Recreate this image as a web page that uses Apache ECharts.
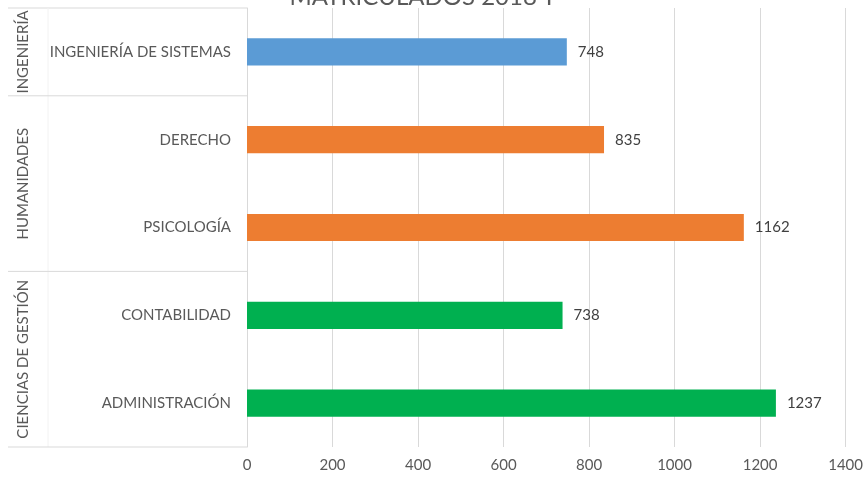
<!DOCTYPE html>
<html>
<head>
<meta charset="utf-8">
<script src="https://cdn.jsdelivr.net/npm/echarts@6/dist/echarts.min.js"></script>
<style>
html,body{margin:0;padding:0;background:#fff;}
#c{width:866px;height:478px;}
</style>
</head>
<body>
<div id="c"></div>
<script>
var titleText = 'MATRICULADOS 2018-I';
var categories = ['INGENIERÍA DE SISTEMAS', 'DERECHO', 'PSICOLOGÍA', 'CONTABILIDAD', 'ADMINISTRACIÓN'];
var values = [748, 835, 1162, 738, 1237];
var groupNames = ['INGENIERÍA', 'HUMANIDADES', 'CIENCIAS DE GESTIÓN'];
var groupSizes = [1, 2, 2];
var groupColors = ['#5B9BD5', '#ED7D31', '#00B050'];
var xTicks = [0, 200, 400, 600, 800, 1000, 1200, 1400];

var FONT = 'Lato';
var chart = echarts.init(document.getElementById('c'), null, {renderer: 'canvas'});

var colorOf = [];
groupSizes.forEach(function (n, g) { for (var i = 0; i < n; i++) colorOf.push(groupColors[g]); });

chart.setOption({
  animation: false,
  backgroundColor: '#fff',
  textStyle: {fontFamily: FONT},
  title: {
    text: titleText, left: 416, textAlign: 'center', top: -20,
    textStyle: {fontFamily: FONT, fontSize: 24, fontWeight: 'normal', color: '#595959'}
  },
  grid: {left: 247, right: 19, top: 8, bottom: 31, containLabel: false},
  xAxis: {
    type: 'value', min: xTicks[0], max: xTicks[xTicks.length - 1], interval: xTicks[1] - xTicks[0],
    axisLine: {show: false}, axisTick: {show: false},
    splitLine: {lineStyle: {color: '#D9D9D9', width: 1}},
    axisLabel: {color: '#595959', fontSize: 15, fontFamily: FONT, margin: 11,
      formatter: function (v) { return String(v); }}
  },
  yAxis: {
    type: 'category', data: categories, inverse: true,
    axisLine: {show: true, lineStyle: {color: '#D9D9D9'}},
    axisTick: {show: false},
    axisLabel: {color: '#595959', fontSize: 15, fontFamily: FONT, margin: 16}
  },
  series: [{
    type: 'bar',
    barWidth: '31%',
    data: values.map(function (v, i) { return {value: v, itemStyle: {color: colorOf[i]}}; }),
    label: {show: true, position: 'right', distance: 11, color: '#404040', fontSize: 15, fontFamily: FONT}
  }]
});

// multi-level category decorations computed from the axis scale
var c0 = chart.convertToPixel({yAxisIndex: 0}, 0);
var c1 = chart.convertToPixel({yAxisIndex: 0}, 1);
var bw = c1 - c0;
var xAxisPos = chart.convertToPixel({xAxisIndex: 0}, 0);
var leftEdge = 8, groupColRight = 48;
var els = [];
var start = 0;
var topY = c0 - bw / 2;
var botY = c0 + bw * (categories.length - 0.5);
els.push({type: 'line', shape: {x1: leftEdge, y1: topY, x2: xAxisPos, y2: topY}, style: {stroke: '#D9D9D9', lineWidth: 1}});
els.push({type: 'line', shape: {x1: groupColRight, y1: topY, x2: groupColRight, y2: botY}, style: {stroke: '#F2F2F2', lineWidth: 1}});
groupSizes.forEach(function (n, g) {
  var y1 = c0 + bw * (start - 0.5);
  var y2 = c0 + bw * (start + n - 0.5);
  els.push({type: 'line', shape: {x1: leftEdge, y1: y2, x2: xAxisPos, y2: y2}, style: {stroke: '#D9D9D9', lineWidth: 1}});
  els.push({
    type: 'text', x: 23, y: (y1 + y2) / 2, rotation: Math.PI / 2,
    style: {text: groupNames[g], fill: '#595959', font: '15px ' + FONT, align: 'center', verticalAlign: 'middle'}
  });
  start += n;
});
chart.setOption({graphic: {elements: els}});
</script>
</body>
</html>
